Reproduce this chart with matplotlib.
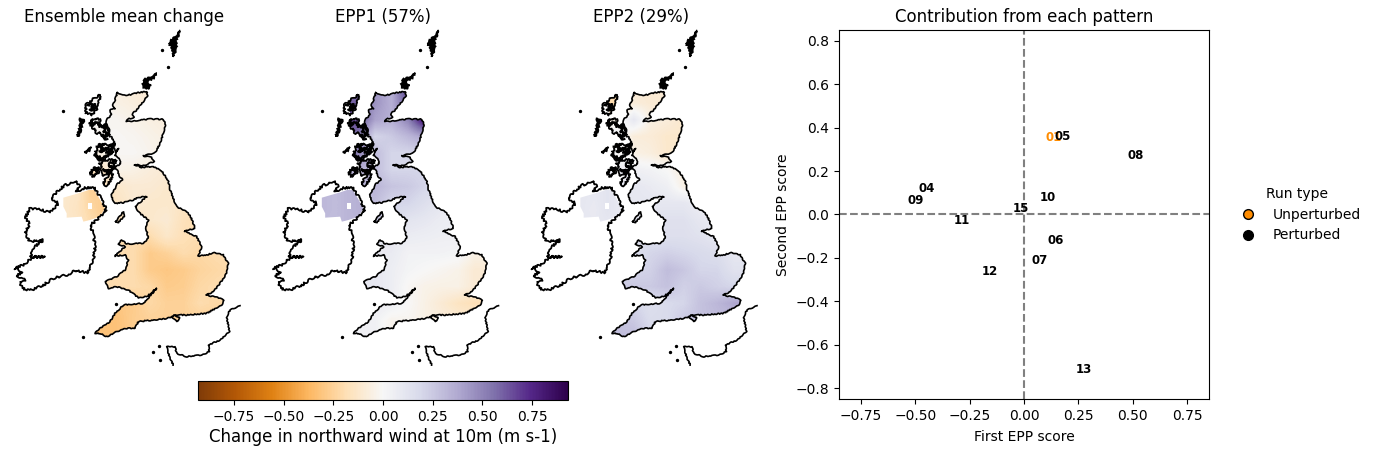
import numpy as np
import matplotlib
matplotlib.use("Agg")
import matplotlib.pyplot as plt
from matplotlib.path import Path
from matplotlib.patches import PathPatch, Rectangle
from matplotlib.lines import Line2D
from matplotlib.cm import ScalarMappable
from matplotlib.colors import Normalize

W, H = 1376, 454
VMAX = 0.93

titles = ["Ensemble mean change", "EPP1 (57%)", "EPP2 (29%)"]

# wind-change fields, read at lattice points of the map
field_x = [300, 350, 400, 450, 500, 550, 600, 650, 700]
field_y = [200, 250, 300, 350, 400, 450, 500, 550, 600, 650, 700, 750, 800, 850, 900, 950]
mean_field = [
    [-.01, -.06, -.09, -.10, -.10, -.10, -.10, -.10, -.10],
    [-.01, -.05, -.07, -.10, -.10, -.10, -.10, -.10, -.10],
    [-.01, -.02, -.04, -.06, -.08, -.08, -.08, -.08, -.08],
    [-.02, -.01, -.02, -.04, -.06, -.06, -.06, -.06, -.06],
    [-.05, -.01, -.01, -.03, -.05, -.05, -.05, -.05, -.05],
    [-.15, -.04, -.05, -.08, -.10, -.10, -.10, -.10, -.10],
    [-.20, -.12, -.10, -.10, -.12, -.12, -.12, -.12, -.12],
    [-.18, -.15, -.10, -.12, -.12, -.14, -.14, -.14, -.14],
    [-.18, -.18, -.15, -.12, -.10, -.17, -.20, -.20, -.20],
    [-.20, -.20, -.20, -.20, -.13, -.18, -.20, -.20, -.20],
    [-.20, -.20, -.20, -.28, -.25, -.20, -.22, -.20, -.20],
    [-.20, -.20, -.20, -.28, -.30, -.28, -.24, -.22, -.20],
    [-.20, -.20, -.20, -.22, -.28, -.27, -.22, -.20, -.20],
    [-.30, -.30, -.28, -.22, -.25, -.25, -.20, -.22, -.22],
    [-.32, -.32, -.27, -.25, -.25, -.25, -.25, -.25, -.25],
    [-.32, -.32, -.28, -.25, -.25, -.25, -.25, -.25, -.25],
]
epp1_field = [
    [.55, .45, .35, .75, .60, .50, .40, .30, .30],
    [.60, .45, .35, .62, .60, .50, .40, .30, .30],
    [.65, .40, .35, .50, .85, .50, .40, .30, .30],
    [.55, .20, .25, .32, .40, .40, .30, .30, .30],
    [.50, .30, .20, .20, .20, .20, .20, .20, .20],
    [.35, .30, .20, .20, .20, .20, .20, .20, .20],
    [.33, .33, .27, .25, .20, .20, .20, .20, .20],
    [.30, .30, .20, .20, .15, .10, .10, .10, .10],
    [.25, .25, .20, .12, .10, .07, .05, .05, .05],
    [.10, .10, .10, .07, .06, .05, .05, .03, .03],
    [.08, .08, .08, .03, .03, .03, .02, -.05, -.05],
    [.10, .10, .06, .02, .00, -.02, -.04, -.10, -.10],
    [.10, .10, .06, -.01, -.04, -.05, -.05, -.10, -.10],
    [.07, .07, .05, .00, -.05, -.10, -.15, -.18, -.18],
    [.05, .04, -.03, -.02, -.05, -.08, -.10, -.10, -.10],
    [.05, .04, -.03, -.02, -.05, -.08, -.10, -.10, -.10],
]
epp2_field = [
    [-.20, -.10, -.10, -.10, -.10, -.10, -.10, -.10, -.10],
    [-.20, -.08, -.10, -.10, -.10, -.10, -.10, -.10, -.10],
    [-.05, .10, -.06, -.08, -.12, -.12, -.12, -.12, -.12],
    [.05, -.08, -.09, -.12, -.12, -.12, -.12, -.12, -.12],
    [.00, -.05, -.07, -.12, -.10, -.10, -.10, -.10, -.10],
    [.05, .05, .03, .00, -.08, -.08, -.08, -.08, -.08],
    [.10, .10, .08, .05, -.05, -.05, -.05, -.05, -.05],
    [.10, .10, .10, .10, .10, .05, .05, .05, .05],
    [.12, .12, .12, .14, .14, .10, .07, .07, .07],
    [.15, .15, .15, .15, .15, .13, .10, .10, .10],
    [.15, .15, .20, .22, .20, .18, .16, .10, .10],
    [.20, .20, .22, .30, .26, .20, .20, .13, .13],
    [.25, .25, .25, .28, .22, .25, .22, .20, .20],
    [.20, .20, .15, .18, .20, .28, .32, .38, .38],
    [.28, .25, .17, .18, .25, .28, .30, .30, .30],
    [.30, .30, .20, .20, .25, .28, .30, .30, .30],
]
ni_x = [190, 230, 270, 310]
ni_y = [530, 570, 610]
mean_ni = [[-.12, -.14, -.25, -.26], [-.12, -.15, -.22, -.28], [-.12, -.14, -.20, -.25]]
epp1_ni = [[.32, .30, .33, .35], [.32, .30, .33, .35], [.30, .30, .33, .33]]
epp2_ni = [[.10, .09, .12, .08], [.10, .08, .12, .08], [.09, .09, .10, .08]]

# coast outlines, map units
gb_coast = [(352,218),(368,226),(385,225),(400,222),(412,218),(440,215),(442,228),(430,245),(418,258),(408,272),(396,282),(402,292),(382,298),(380,305),(398,304),(418,300),(450,297),(490,298),(497,315),(490,340),(484,360),(478,375),(465,398),(448,403),(430,408),(455,412),(462,425),(430,437),(403,434),(425,442),(460,440),(485,452),(497,470),(505,485),(510,508),(518,530),(530,560),(560,575),(572,590),(578,605),(585,625),(553,633),(590,650),(605,680),(595,708),(620,705),(640,698),(670,705),(685,730),(680,760),(660,790),(640,815),(618,825),(650,832),(672,840),(665,855),(620,880),(560,885),(530,885),(500,895),(470,900),(440,902),(415,905),(405,925),(375,925),(350,935),(320,950),(300,940),(285,940),(300,925),(330,905),(345,880),(370,855),(400,852),(430,850),(450,828),(470,805),(440,830),(415,833),(385,810),(350,800),(325,805),(315,785),(350,770),(375,750),(385,720),(375,705),(345,708),(375,680),(355,672),(365,660),(380,672),(430,670),(445,655),(437,620),(445,600),(420,580),(405,560),(440,530),(415,532),(400,540),(370,548),(345,550),(333,527),(340,515),(352,492),(368,480),(360,470),(352,452),(345,440),(362,432),(358,415),(345,405),(355,385),(348,395),(338,380),(345,372),(335,352),(322,345),(328,330),(318,312),(322,295),(335,285),(330,270),(345,265),(338,258),(345,240),(352,218)]
ireland_coast = [(230,487),(240,500),(228,515),(255,503),(285,505),(300,530),(315,560),(318,575),(300,590),(285,605),(270,615),(280,640),(285,680),(280,720),(262,760),(230,750),(200,765),(160,775),(130,795),(95,810),(75,810),(60,790),(75,780),(50,770),(65,755),(45,745),(70,735),(100,710),(135,710),(90,712),(105,680),(130,660),(90,665),(75,640),(90,610),(75,595),(90,565),(125,570),(150,578),(175,550),(155,535),(170,515),(195,495),(230,487)]
ni_land = [(190,533),(245,517),(280,505),(295,530),(315,565),(300,590),(270,600),(250,605),(245,590),(200,593),(200,580),(190,560),(190,533)]
france_coast = [(720,857),(690,870),(680,890),(688,935),(660,960),(625,975),(628,995),(605,1005),(560,1010),(530,1000),(525,980),(500,980),(510,1015),(520,1035)]
man_coast = [(347,605),(370,575),(372,590),(355,607),(347,605)]
wight_coast = [(515,890),(530,905),(540,895),(525,885),(515,890)]
kintyre_coast = [(330,460),(308,490),(320,497),(342,465),(330,460)]
lewis_coast = [(300,225),(275,240),(258,255),(258,280),(275,285),(295,260),(300,225)]
skye_coast = [(268,310),(285,295),(300,300),(305,318),(322,325),(328,345),(312,350),(300,335),(290,340),(280,325),(268,310)]
mull_coast = [(288,395),(300,375),(335,372),(345,370),(330,395),(318,415),(300,420),(285,410),(288,395)]
jura_coast = [(300,430),(320,420),(350,420),(340,440),(312,470),(305,450),(300,430)]
islay_coast = [(270,458),(295,445),(295,460),(280,472),(270,458)]
lewis_strokes = [(262,255),(285,250),(270,270),(290,262)]
skye_strokes = [(270,310),(280,300),(275,315),(295,305),(300,320),(320,315),(310,335),(325,345),(305,350),(320,360)]
mull_strokes = [(290,380),(310,370),(300,395),(340,375),(320,400),(340,395),(310,415),(285,405),(305,425)]
jura_strokes = [(345,420),(325,435),(345,445),(330,455),(310,445),(325,465)]
islay_strokes = [(275,450),(295,440),(285,470)]
shetland_blob = [(540,32),(530,45),(525,50),(505,70),(515,80),(520,110),(530,85),(530,60),(540,32)]
orkney_blob = [(470,160),(450,172),(430,180),(428,200),(445,208),(452,195),(440,185),(462,175),(470,160)]
uist_blob = [(240,295),(252,300),(245,320),(238,345),(232,350),(240,320),(240,295)]
tiree_blob = [(255,395),(275,382),(270,390),(258,398),(255,395)]
specks_x = [485, 505, 190, 250, 460, 480, 478, 347]
specks_y = [90, 142, 273, 952, 997, 1020, 978, 853]

# scatter scores
run_labels = ["01", "04", "05", "06", "07", "08", "09", "10", "11", "12", "13", "15"]
first_score = [.134, -.446, .179, .144, .074, .514, -.496, .109, -.286, -.156, .274, -.016]
second_score = [.353, .118, .358, -.122, -.212, .273, .065, .078, -.027, -.262, -.712, .028]
run_colors = ["darkorange"] + ["black"] * 11


def rect(l, t, w, h):
    return [l / W, 1 - (t + h) / H, w / W, h / H]


def poly_path(polys):
    verts, codes = [], []
    for p in polys:
        verts += list(p)
        codes += [Path.MOVETO] + [Path.LINETO] * (len(p) - 2) + [Path.CLOSEPOLY]
    return Path(verts, codes)


def extent(xs, ys):
    dx = (xs[1] - xs[0]) / 2
    dy = (ys[1] - ys[0]) / 2
    return (xs[0] - dx, xs[-1] + dx, ys[-1] + dy, ys[0] - dy)


fig = plt.figure(figsize=(W / 100, H / 100), dpi=100)

filled = [gb_coast, man_coast, wight_coast, kintyre_coast, lewis_coast, skye_coast, mull_coast, jura_coast, islay_coast]
smooth = [gb_coast, france_coast, man_coast, wight_coast]
rugged = [ireland_coast, kintyre_coast, lewis_coast, skye_coast, mull_coast, jura_coast, islay_coast]
strokes = [lewis_strokes, skye_strokes, mull_strokes, jura_strokes, islay_strokes]
blobs = [shetland_blob, orkney_blob, uist_blob, tiree_blob]

for i, (title, fld, nif) in enumerate(zip(titles, [mean_field, epp1_field, epp2_field], [mean_ni, epp1_ni, epp2_ni])):
    ax = fig.add_axes(rect(-5.5 + 258.5 * i, 20, 260, 350))
    im = ax.imshow(fld, extent=extent(field_x, field_y), cmap="PuOr", vmin=-VMAX, vmax=VMAX,
                   interpolation="bilinear", aspect="auto", zorder=1)
    im.set_clip_path(PathPatch(poly_path(filled), transform=ax.transData))
    im2 = ax.imshow(nif, extent=extent(ni_x, ni_y), cmap="PuOr", vmin=-VMAX, vmax=VMAX,
                    interpolation="bilinear", aspect="auto", zorder=1)
    im2.set_clip_path(PathPatch(poly_path([ni_land]), transform=ax.transData))
    ax.set_xlim(-16.5, 763.5)
    ax.set_ylim(1050, 0)
    ax.axis("off")
    ax.add_patch(Rectangle((265, 549), 12, 18, fc="white", ec="none", zorder=2))
    for c in smooth:
        xs, ys = zip(*c)
        ln, = ax.plot(xs, ys, color="black", lw=1.2, zorder=3)
        ln.set_sketch_params(scale=0.5, length=6, randomness=4)
    for c in rugged:
        xs, ys = zip(*c)
        ln, = ax.plot(xs, ys, color="black", lw=1.3, zorder=3)
        ln.set_sketch_params(scale=1.1, length=5, randomness=4)
    for c in strokes:
        xs, ys = zip(*c)
        ln, = ax.plot(xs, ys, color="black", lw=1.6, zorder=3)
        ln.set_sketch_params(scale=1.2, length=4, randomness=4)
    for b in blobs:
        xs, ys = zip(*b)
        ln = ax.fill(xs, ys, fc="black", ec="black", lw=1.2, zorder=3)[0]
        ln.set_sketch_params(scale=0.8, length=6, randomness=4)
    ax.scatter(specks_x, specks_y, s=2, color="black", zorder=3)
    ax.set_title(title, fontsize=12, y=1.0, pad=-1.2)

cax = fig.add_axes(rect(198, 381, 370, 19))
cb = fig.colorbar(ScalarMappable(Normalize(-VMAX, VMAX), "PuOr"), cax=cax, orientation="horizontal")
cb.set_ticks([-.75, -.5, -.25, 0, .25, .5, .75])
cb.ax.tick_params(labelsize=10)
cb.set_label("Change in northward wind at 10m (m s-1)", fontsize=12, labelpad=3)

ax = fig.add_axes(rect(839, 30, 370, 369))
ax.set_xlim(-.85, .85)
ax.set_ylim(-.85, .85)
ax.axhline(0, color="gray", ls="--", lw=1.5)
ax.axvline(0, color="gray", ls="--", lw=1.5)
for lb, a, b, col in zip(run_labels, first_score, second_score, run_colors):
    ax.text(a, b, lb, color=col, fontsize=8.5, fontweight="bold", ha="center", va="center")
ax.set_xticks([-.75, -.5, -.25, 0, .25, .5, .75])
ax.set_yticks(np.round(np.arange(-.8, .81, .2), 1))
ax.tick_params(labelsize=10)
ax.set_xlabel("First EPP score", fontsize=10, labelpad=5)
ax.set_ylabel("Second EPP score", fontsize=10)
ax.set_title("Contribution from each pattern", fontsize=12)
handles = [Line2D([], [], ls="", marker="o", mfc="darkorange", mec="black", ms=7, label="Unperturbed"),
           Line2D([], [], ls="", marker="o", mfc="black", mec="black", ms=7, label="Perturbed")]
ax.legend(handles=handles, title="Run type", frameon=False, fontsize=10, title_fontsize=10,
          loc="center left", bbox_to_anchor=(1.033, 0.5))

fig.savefig("out.png", dpi=100)
